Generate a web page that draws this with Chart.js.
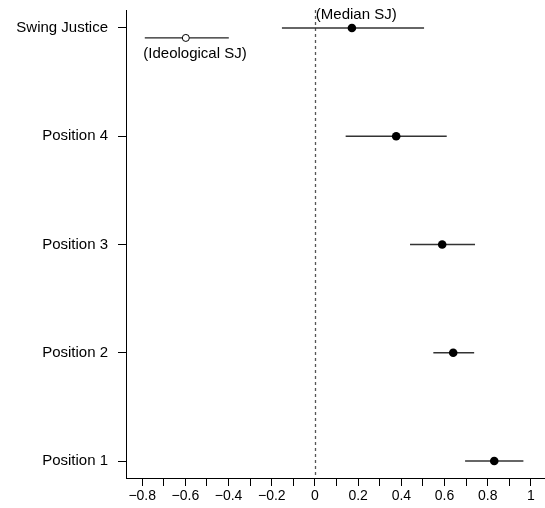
<!DOCTYPE html>
<html>
<head>
<meta charset="utf-8">
<script src="https://cdn.jsdelivr.net/npm/chart.js@4/dist/chart.umd.min.js"></script>
<style>
  html, body { margin: 0; padding: 0; background: #fff; }
  #wrap { width: 545px; height: 508px; }
</style>
</head>
<body>
<div id="wrap"><canvas id="dotChart" width="545" height="508"></canvas></div>
<script>
// categories, bottom to top (value 1..5 on the y scale)
const categories = ["Position 1", "Position 2", "Position 3", "Position 4", "Swing Justice"];
// point estimates and interval ends
const estimates = [0.83, 0.64, 0.589, 0.376, 0.171];
const lower = [0.695, 0.548, 0.44, 0.142, -0.153];
const upper = [0.965, 0.737, 0.741, 0.61, 0.505];
// the ideological swing justice, drawn just under the median one
const ideoEstimate = [-0.598];
const ideoLower = [-0.788];
const ideoUpper = [-0.399];
const ideoRow = [4.908];
// x tick labels
const xTicks = [-0.8, -0.7, -0.6, -0.5, -0.4, -0.3, -0.2, -0.1, 0, 0.1, 0.2, 0.3, 0.4, 0.5, 0.6, 0.7, 0.8, 0.9, 1];
const xLabels = ["-0.8", "", "-0.6", "", "-0.4", "", "-0.2", "", "0", "", "0.2", "", "0.4", "", "0.6", "", "0.8", "", "1"];
// annotations
const notes = [
  { text: "(Median SJ)", x: 0.004, y: 5.12 },
  { text: "(Ideological SJ)", x: -0.795, y: 4.765 },
];

const FONT = "'Liberation Sans', Arial, Helvetica, sans-serif";

/** Draws the dashed zero line and the horizontal intervals */
const intervalPlugin = {
  id: "intervals",
  beforeDatasetsDraw(chart) {
    const { ctx, chartArea, scales } = chart;
    const xs = scales.x, ys = scales.y;
    ctx.save();
    // zero line
    const zx = Math.round(xs.getPixelForValue(0)) + 0.5;
    ctx.strokeStyle = "#555";
    ctx.lineWidth = 1.3;
    ctx.setLineDash([3, 3]);
    ctx.beginPath();
    ctx.moveTo(zx, chartArea.top);
    ctx.lineTo(zx, chartArea.bottom);
    ctx.stroke();
    ctx.setLineDash([]);
    // intervals
    ctx.strokeStyle = "#333";
    ctx.lineWidth = 1.6;
    categories.forEach((c, i) => {
      const y = ys.getPixelForValue(i + 1);
      ctx.beginPath();
      ctx.moveTo(xs.getPixelForValue(lower[i]), y);
      ctx.lineTo(xs.getPixelForValue(upper[i]), y);
      ctx.stroke();
    });
    ctx.lineWidth = 1.2;
    ctx.strokeStyle = "#222";
    ideoEstimate.forEach((v, i) => {
      const y = ys.getPixelForValue(ideoRow[i]);
      ctx.beginPath();
      ctx.moveTo(xs.getPixelForValue(ideoLower[i]), y);
      ctx.lineTo(xs.getPixelForValue(ideoUpper[i]), y);
      ctx.stroke();
    });
    ctx.restore();
  },
  afterDatasetsDraw(chart) {
    const { ctx, scales } = chart;
    ctx.save();
    ctx.fillStyle = "#000";
    ctx.font = "15px " + FONT;
    ctx.textAlign = "left";
    ctx.textBaseline = "middle";
    for (const n of notes) {
      ctx.fillText(n.text, scales.x.getPixelForValue(n.x), scales.y.getPixelForValue(n.y));
    }
    ctx.restore();
  }
};

new Chart(document.getElementById("dotChart"), {
  type: "scatter",
  data: {
    datasets: [
      {
        label: "Estimate",
        data: estimates.map((v, i) => ({ x: v, y: i + 1 })),
        pointRadius: 4.3,
        pointBackgroundColor: "#000",
        pointBorderColor: "#000",
        pointBorderWidth: 0,
      },
      {
        label: "Ideological SJ",
        data: ideoEstimate.map((v, i) => ({ x: v, y: ideoRow[i] })),
        pointRadius: 3.5,
        pointBackgroundColor: "#fff",
        pointBorderColor: "#000",
        pointBorderWidth: 1,
      },
    ],
  },
  options: {
    responsive: false,
    animation: false,
    devicePixelRatio: 1,
    layout: { autoPadding: false, padding: { top: 10, right: 0, left: 0, bottom: 0 } },
    plugins: {
      legend: { display: false },
      tooltip: { enabled: false },
    },
    scales: {
      x: {
        type: "linear",
        min: -0.875,
        max: 1.065,
        afterBuildTicks: (scale) => { scale.ticks = xTicks.map(v => ({ value: v })); },
        afterFit: (scale) => {
          scale.height = 30;
          scale.paddingLeft = 0;
          scale.paddingRight = 0;
        },
        ticks: {
          autoSkip: false,
          maxRotation: 0,
          padding: 2,
          color: "#000",
          font: { family: FONT, size: 14 },
          callback: (v, i) => xLabels[i].replace("-", "\u2212"),
        },
        grid: { drawOnChartArea: false, drawTicks: true, tickLength: 8, tickColor: "#000", lineWidth: 1 },
        border: { display: true, color: "#000", width: 1 },
      },
      y: {
        type: "linear",
        min: 0.843,
        max: 5.166,
        afterBuildTicks: (scale) => { scale.ticks = categories.map((c, i) => ({ value: i + 1 })); },
        afterFit: (scale) => {
          scale.width = 126;
          scale.paddingTop = 0;
          scale.paddingBottom = 0;
        },
        ticks: {
          autoSkip: false,
          padding: 10,
          color: "#000",
          font: { family: FONT, size: 15 },
          callback: (v) => categories[Math.round(v) - 1] || "",
        },
        grid: { drawOnChartArea: false, drawTicks: true, tickLength: 8, tickColor: "#000", lineWidth: 1 },
        border: { display: true, color: "#000", width: 1 },
      },
    },
  },
  plugins: [intervalPlugin],
});
</script>
</body>
</html>
